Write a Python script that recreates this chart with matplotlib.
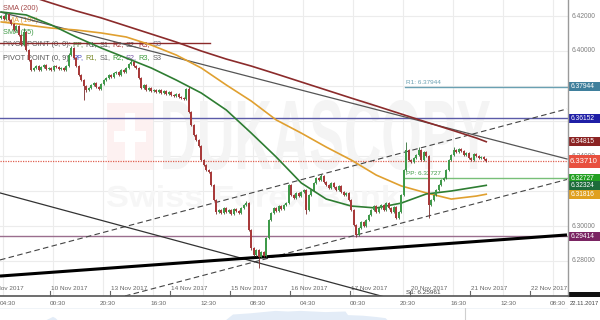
import numpy as np
import matplotlib
matplotlib.use("Agg")
import matplotlib.pyplot as plt
from matplotlib.patches import Rectangle, PathPatch
from matplotlib.textpath import TextPath
from matplotlib.font_manager import FontProperties
import matplotlib.transforms as mtransforms

plt.rcParams['font.family'] = ['Liberation Sans', 'DejaVu Sans']

# ---------------- data ----------------
# hourly candles, trading hours counted from 9 Nov 2017 04:30
first_open = 6.4189
closes = [
    6.4200, 6.4183, 6.4211, 6.4177, 6.4154, 6.4120, 6.4143, 6.4091, 6.4034, 6.4109, 6.4006, 6.3949, 6.3891, 6.3903, 6.3914,
    6.3891, 6.3909, 6.3920, 6.3897, 6.3903, 6.3891, 6.3914, 6.3909, 6.3897, 6.3903, 6.3891, 6.3914, 6.3977, 6.4017, 6.3960,
    6.3914, 6.3863, 6.3834, 6.3800, 6.3777, 6.3789, 6.3806, 6.3817, 6.3794, 6.3783, 6.3811, 6.3834, 6.3846, 6.3863, 6.3851,
    6.3874, 6.3880, 6.3863, 6.3891, 6.3880, 6.3903, 6.3926, 6.3937, 6.3914, 6.3903, 6.3846, 6.3789, 6.3806, 6.3777, 6.3789,
    6.3771, 6.3777, 6.3766, 6.3777, 6.3760, 6.3771, 6.3754, 6.3766, 6.3749, 6.3743, 6.3754, 6.3737, 6.3731, 6.3726, 6.3783,
    6.3651, 6.3577, 6.3520, 6.3491, 6.3457, 6.3377, 6.3349, 6.3320, 6.3309, 6.3234, 6.3149, 6.3080, 6.3091, 6.3074, 6.3103,
    6.3080, 6.3091, 6.3069, 6.3097, 6.3086, 6.3074, 6.3103, 6.3120, 6.3131, 6.2977, 6.2874, 6.2834, 6.2863, 6.2823, 6.2851,
    6.2829, 6.2931, 6.3034, 6.3074, 6.3103, 6.3086, 6.3114, 6.3097, 6.3120, 6.3131, 6.3234, 6.3177, 6.3160, 6.3189, 6.3171,
    6.3194, 6.3206, 6.3091, 6.3177, 6.3206, 6.3246, 6.3274, 6.3263, 6.3286, 6.3251, 6.3234, 6.3217, 6.3246, 6.3223, 6.3206,
    6.3229, 6.3194, 6.3177, 6.3189, 6.3149, 6.3091, 6.3006, 6.2949, 6.2989, 6.3023, 6.3000, 6.3034, 6.3063, 6.3091, 6.3114,
    6.3080, 6.3103, 6.3120, 6.3091, 6.3131, 6.3103, 6.3080, 6.3109, 6.3046, 6.3080, 6.3177, 6.3320, 6.3434, 6.3377, 6.3366,
    6.3389, 6.3406, 6.3434, 6.3377, 6.3423, 6.3400, 6.3120, 6.3149, 6.3177, 6.3206, 6.3234, 6.3263, 6.3274, 6.3320, 6.3377,
    6.3406, 6.3434, 6.3423, 6.3440, 6.3429, 6.3406, 6.3417, 6.3389, 6.3377, 6.3411, 6.3400, 6.3389, 6.3394, 6.3383, 6.3371,
]
# upper / lower shadow length of each candle, in pips (0.0001)
wick_up_pips = [
    6, 8, 10, 4, 5, 6, 8, 5, 6, 22, 4, 5, 6, 5, 4,
    6, 5, 4, 5, 6, 4, 5, 6, 5, 4, 5, 6, 12, 10, 5,
    4, 5, 6, 5, 4, 6, 5, 4, 6, 5, 4, 5, 6, 4, 5,
    6, 5, 4, 5, 6, 5, 8, 10, 5, 4, 6, 5, 4, 6, 5,
    4, 5, 6, 4, 5, 6, 5, 4, 5, 6, 4, 5, 6, 5, 8,
    10, 6, 5, 6, 5, 6, 5, 4, 5, 6, 5, 8, 6, 5, 6,
    5, 6, 5, 4, 5, 6, 5, 8, 10, 6, 5, 6, 8, 5, 6,
    5, 6, 8, 6, 5, 6, 5, 6, 5, 6, 8, 5, 6, 5, 6,
    5, 6, 5, 6, 5, 8, 6, 5, 10, 6, 5, 6, 5, 6, 5,
    6, 5, 6, 5, 6, 5, 6, 5, 6, 5, 6, 5, 6, 5, 6,
    5, 6, 5, 6, 5, 6, 5, 6, 5, 6, 5, 8, 46, 6, 8,
    6, 8, 17, 6, 8, 6, 5, 6, 5, 6, 5, 6, 5, 6, 5,
    6, 17, 6, 8, 6, 5, 6, 5, 6, 5, 6, 5, 6, 5, 6,
]
wick_dn_pips = [
    5, 6, 4, 8, 6, 5, 6, 8, 6, 5, 6, 5, 8, 6, 5,
    5, 6, 5, 4, 5, 6, 5, 4, 5, 6, 5, 4, 6, 5, 6,
    5, 6, 8, 80, 12, 6, 5, 6, 5, 6, 5, 4, 5, 6, 5,
    5, 6, 5, 6, 5, 6, 5, 4, 5, 6, 5, 6, 5, 6, 5,
    6, 5, 4, 5, 6, 5, 4, 5, 6, 5, 6, 5, 4, 5, 6,
    6, 5, 8, 6, 5, 6, 8, 5, 6, 8, 6, 10, 5, 6, 5,
    6, 5, 6, 5, 6, 5, 6, 5, 6, 8, 10, 8, 6, 63, 8,
    6, 5, 6, 5, 6, 5, 6, 5, 6, 5, 6, 5, 6, 5, 6,
    5, 6, 20, 6, 5, 6, 5, 6, 5, 6, 5, 6, 5, 6, 5,
    6, 5, 6, 5, 6, 5, 8, 12, 6, 5, 6, 5, 6, 5, 6,
    5, 6, 5, 6, 5, 6, 5, 6, 8, 6, 6, 5, 6, 5, 6,
    5, 6, 5, 6, 5, 6, 74, 6, 5, 6, 5, 6, 5, 6, 5,
    6, 5, 6, 5, 6, 5, 6, 5, 6, 5, 6, 5, 6, 5, 6,
]

# moving averages read at every 10th candle (+ last)
sma_idx = [0, 10, 20, 30, 40, 50, 60, 70, 80, 90, 100, 110, 120, 130, 140, 150, 160, 170, 180, 190, 194]
sma200 = [6.4366, 6.4320, 6.4274, 6.4229, 6.4189, 6.4143, 6.4097, 6.4051, 6.4000, 6.3954, 6.3914,
          6.3869, 6.3823, 6.3777, 6.3731, 6.3686, 6.3640, 6.3594, 6.3549, 6.3503, 6.34815]
sma100 = [6.4166, 6.4149, 6.4131, 6.4120, 6.4103, 6.4080, 6.4034, 6.3977, 6.3903, 6.3806, 6.3714,
          6.3606, 6.3531, 6.3451, 6.3377, 6.3291, 6.3229, 6.3189, 6.3154, 6.3171, 6.31816]
sma55 = [6.4223, 6.4206, 6.4149, 6.4080, 6.4017, 6.3960, 6.3903, 6.3834, 6.3760, 6.3663, 6.3531,
         6.3394, 6.3246, 6.3154, 6.3114, 6.3103, 6.3131, 6.3183, 6.3200, 6.3223, 6.32324]

# drawn trend lines: (hours, prices)
trend_grey_t, trend_grey_p = [0, 226.8], [6.4223, 6.3383]
chan_up_t, chan_up_p = [0, 226.8], [6.2806, 6.3669]
chan_lo_t, chan_lo_p = [50, 226.8], [6.2600, 6.3266]
thin_t, thin_p = [0, 162], [6.3189, 6.2563]
support_t, support_p = [0, 226.8], [6.2714, 6.2949]

# horizontal levels
level_prev = 6.4046
level_prev_end = 84
level_r1 = 6.37944
level_blue = 6.36152
level_last = 6.33710
level_pp = 6.32727
level_purple = 6.29414
level_s1 = 6.25961
pivot_start = 162  # hours (Sun 22:00)

price_labels = [
    (6.37944, "#3f7f9c"), (6.36152, "#1f1fa6"), (6.34815, "#8b2323"),
    (6.32727, "#22a022"), (6.32324, "#1d6b3a"), (6.31816, "#e0a020"),
    (6.29414, "#7a2462"), (6.25961, "#111111"),
]
axis_ticks = [6.28, 6.30, 6.32, 6.34, 6.36, 6.38, 6.40, 6.42]
shown_tick_labels = [6.28, 6.30, 6.34, 6.40, 6.42]

day_labels = ["9 Nov 2017", "10 Nov 2017", "13 Nov 2017", "14 Nov 2017", "15 Nov 2017",
              "16 Nov 2017", "17 Nov 2017", "20 Nov 2017", "21 Nov 2017", "22 Nov 2017"]
time_labels = ["04:30", "00:30", "20:30", "16:30", "12:30", "08:30",
               "04:30", "00:30", "20:30", "16:30", "12:30", "08:30"]

# navigator (longer history, faint mini area chart under the axis)
nav_hours = [18, 20, 21, 22, 23, 90, 93, 100, 110, 115, 120, 130, 138, 139, 145, 150, 154, 155]
nav_vals = [0.0, 0.2, 0.3, 0.2, 0.0, 0.0, 0.5, 0.6, 0.8, 0.75, 0.8, 0.7, 0.75, 0.45, 0.4, 0.3, 0.2, 0.0]

# ---------------- figure ----------------
W, H = 600, 320
fig = plt.figure(figsize=(6, 3.2), dpi=100)
fig.patch.set_facecolor("white")
ax = fig.add_axes([0, 24 / H, 568 / W, 296 / H])
XMAX = 568 / 2.5
YMIN, YMAX = 6.26, 6.42 + 16 / 1750
ax.set_xlim(0, XMAX)
ax.set_ylim(YMIN, YMAX)
for s in ax.spines.values():
    s.set_visible(False)
ax.set_xticks([])
ax.set_yticks([])

# navigator
nav = fig.add_axes([0, 0, 568 / W, 12 / H])
nav.set_xlim(0, XMAX)
nav.set_ylim(0, 1)
nav.axis("off")
nav.fill_between(nav_hours, 0, nav_vals, color="#e3ecf7", lw=0)
nav.axhline(1, color="#eef2f7", lw=0.6)
nav.axvline(186, color="#cfcfcf", lw=0.8)

# grid
for v in axis_ticks:
    ax.axhline(v, color="#ececec", lw=0.8, zorder=0.2)
for k in range(12):
    ax.axvline(1.2 + 20 * k, color="#ececec", lw=0.8, zorder=0.2)

# watermark
def fit_text_path(txt, x0, x1, yt, yb, color, z):
    fp = FontProperties(family="Liberation Sans", weight="bold")
    tp = TextPath((0, 0), txt, size=100, prop=fp)
    bb = tp.get_extents()
    tr = (mtransforms.Affine2D().translate(-bb.x0, -bb.y0)
          .scale((x1 - x0) / bb.width, (yb - yt) / bb.height)
          .translate(x0, H - yb).scale(1 / W, 1 / H) + fig.transFigure)
    ax.add_patch(PathPatch(tp, transform=tr, facecolor=color, edgecolor="none", zorder=z))

fig_px = mtransforms.Affine2D().scale(1 / W, 1 / H) + fig.transFigure
ax.add_patch(Rectangle((107, H - 170), 46, 67, transform=fig_px, facecolor="#fdf1f1",
                       edgecolor="none", zorder=0.4))
ax.add_patch(Rectangle((125, H - 160), 10, 47, transform=fig_px, facecolor="white",
                       edgecolor="none", zorder=0.41))
ax.add_patch(Rectangle((114, H - 142), 32, 11, transform=fig_px, facecolor="white",
                       edgecolor="none", zorder=0.41))
fit_text_path("DUKASCOPY", 163, 490, 100, 170, "#f4f4f4", 0.4)
fit_text_path("Swiss Forex Bank", 107, 400, 185, 207, "#f6f6f6", 0.4)

# legend text (behind candles)
renderer = fig.canvas.get_renderer()
def multi_text(x_px, y_px, parts, size=5.3):
    x = x_px
    a = ax.text(0, 0, "a a", fontsize=size, transform=fig.transFigure)
    b = ax.text(0, 0, "aa", fontsize=size, transform=fig.transFigure)
    sp = a.get_window_extent(renderer=renderer).width - b.get_window_extent(renderer=renderer).width
    a.remove(); b.remove()
    for s, c in parts:
        t = ax.text(x / W, 1 - y_px / H, s, color=c, fontsize=size, va="center", ha="left",
                    transform=fig.transFigure, zorder=1.0)
        x += t.get_window_extent(renderer=renderer).width + sp

multi_text(3, 8, [("SMA (200)", "#a44848")])
multi_text(3, 21, [("SMA (100)", "#e6a23c")])
multi_text(3, 33, [("SMA (55)", "#3f9a46")])
multi_text(3, 45, [("PIVOT POINT (0, 0):", "#555555"), ("PP,", "#3d7a2f"), ("R1,", "#555555"),
                   ("S1,", "#555555"), ("R2,", "#a03030"), ("S2,", "#555555"), ("R3,", "#a03030"),
                   ("S3", "#6a7590")])
multi_text(3, 58, [("PIVOT POINT (0, 9):", "#555555"), ("PP,", "#4a4ac0"), ("R1,", "#7a8a2a"),
                   ("S1,", "#666666"), ("R2,", "#3a9a3a"), ("S2,", "#7a5aa8"), ("R3,", "#3a9a3a"),
                   ("S3", "#666666")])

# horizontal levels
ax.plot([0, level_prev_end], [level_prev, level_prev], color="#8b2a2a", lw=1.0, zorder=1.5)
ax.axhline(level_blue, color="#5b5ba8", lw=1.0, zorder=1.5)
ax.axhline(level_purple, color="#9a6e8e", lw=1.0, zorder=1.5)
ax.axhline(level_last, color="#e06050", lw=0.9, ls=(0, (1, 1)), zorder=1.5)
ax.plot([pivot_start, XMAX], [level_r1, level_r1], color="#6aa0b2", lw=1.0, zorder=1.5)
ax.plot([pivot_start, XMAX], [level_pp, level_pp], color="#78bf78", lw=1.0, zorder=1.5)
ax.text(pivot_start + 0.5, level_r1 + 0.0018, "R1: %.5f" % level_r1, color="#6aa0b2", fontsize=4.6, zorder=1.6)
ax.text(pivot_start + 0.5, level_pp + 0.0018, "PP: %.5f" % level_pp, color="#3f9a46", fontsize=4.6, zorder=1.6)
ax.text(pivot_start + 0.5, YMIN + 0.0012, "S1: %.5f" % level_s1, color="#444444", fontsize=4.6, zorder=1.6)

# trend lines
ax.plot(trend_grey_t, trend_grey_p, color="#555555", lw=0.9, zorder=2)
ax.plot(chan_up_t, chan_up_p, color="#444444", lw=0.8, ls=(0, (5, 3)), zorder=2)
ax.plot(chan_lo_t, chan_lo_p, color="#444444", lw=0.8, ls=(0, (5, 3)), zorder=2)
ax.plot(thin_t, thin_p, color="#333333", lw=0.9, zorder=2)
ax.plot(support_t, support_p, color="#000000", lw=2.2, zorder=2, solid_capstyle="butt")

# moving averages
t_sma = [0.5 + i for i in sma_idx]
ax.plot(t_sma, sma200, color="#8b2b2b", lw=1.2, zorder=2.5)
ax.plot(t_sma, sma100, color="#e0a030", lw=1.2, zorder=2.5)
ax.plot(t_sma, sma55, color="#2e7d32", lw=1.2, zorder=2.5)

# candles
c = np.array(closes)
o = np.concatenate([[first_open], c[:-1]])
hi = np.maximum(o, c) + np.array(wick_up_pips) * 1e-4
lo = np.minimum(o, c) - np.array(wick_dn_pips) * 1e-4
t = 0.5 + np.arange(len(c))
up = c >= o
col = np.where(up, "#3f9a4a", "#a83a3a")
ax.vlines(t, lo, hi, colors=np.where(up, "#2f6f36", "#7a2828"), lw=0.6, zorder=3)
body = np.maximum(np.abs(c - o), 0.00025)
ax.bar(t, body, bottom=np.minimum(o, c), width=0.72, color=col, edgecolor="none", zorder=3.1)

# right axis labels
bt = mtransforms.blended_transform_factory(ax.transAxes, ax.transData)
for v in shown_tick_labels:
    ax.text(1 + 4 / 568, v, "%.5f" % v, transform=bt, fontsize=4.8, color="#7d7d7d",
            va="center", ha="left", clip_on=False, zorder=4)
hbox = 9 / 1750
for v, colr in price_labels:
    ax.add_patch(Rectangle((1.0, v - hbox / 2), 32 / 568, hbox, transform=bt, facecolor=colr,
                           edgecolor="none", clip_on=False, zorder=5))
    if v > YMIN:
        ax.text(1 + 3 / 568, v, "%.5f" % v, transform=bt, fontsize=4.8, color="white",
                va="center", ha="left", clip_on=False, zorder=6)
hb2 = 13 / 1750
ax.add_patch(Rectangle((1.0, level_last - hb2 / 2), 32 / 568, hb2, transform=bt, facecolor="#e8503f",
                       edgecolor="none", clip_on=False, zorder=5))
ax.text(1 + 2 / 568, level_last, "%.5f" % level_last, transform=bt, fontsize=5.6, color="white",
        va="center", ha="left", clip_on=False, zorder=6)
# cover the part of the S1 label that falls below the chart
ax.add_patch(Rectangle((567 / W, 0), 33 / W, 23.5 / H, transform=fig.transFigure, facecolor="white",
                       edgecolor="none", clip_on=False, zorder=5.5))

# frame lines
ax.plot([1, 1], [0, 1], transform=ax.transAxes, color="#9a9a9a", lw=1, clip_on=False, zorder=7)
ax.plot([0, 1], [0, 0], transform=ax.transAxes, color="#555555", lw=1.2, clip_on=False, zorder=7)

# date labels & ticks
bx = mtransforms.blended_transform_factory(ax.transData, ax.transAxes)
for k, lab in enumerate(day_labels):
    tt = -4 + 24 * k
    ax.plot([tt, tt], [0, 5 / 296], transform=bx, color="#666666", lw=0.8, clip_on=False, zorder=7)
    ax.text(tt + 0.5, 8 / 296, lab, transform=bx, fontsize=4.6, color="#666666",
            va="center", ha="left", clip_on=True, zorder=1.6)
for k, lab in enumerate(time_labels):
    ax.text(20 * k, -7.5 / 296, lab, transform=bx, fontsize=4.6, color="#666666",
            va="center", ha="left", clip_on=False, zorder=6)
fig.text(569.5 / W, 1 - 303.5 / H, "22.11.2017", fontsize=4.2, color="#444444", va="center", ha="left",
         zorder=8)

fig.savefig("out.png", dpi=100, facecolor="white")
